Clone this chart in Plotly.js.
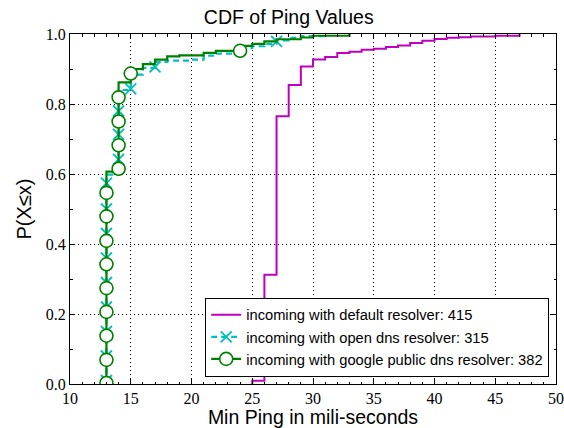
<!DOCTYPE html>
<html>
<head>
<meta charset="utf-8">
<script src="https://cdn.plot.ly/plotly-3.0.1.min.js"></script>
<style>html,body{margin:0;padding:0;background:#fff}#chart{width:564px;height:428px}</style>
</head>
<body>
<div id="chart"></div>
<script>
// Default resolver CDF steps
const defaultX = [25, 25, 26, 27, 28, 29, 30, 31, 32, 33, 34, 35, 36, 37, 38, 39, 40, 41, 42, 43, 45, 47];
const defaultP = [0, 0.009, 0.312, 0.765, 0.854, 0.907, 0.927, 0.934, 0.946, 0.949, 0.955, 0.958, 0.963, 0.967, 0.974, 0.981, 0.986, 0.989, 0.991, 0.993, 0.995, 1.0];

// Open DNS resolver CDF steps
const openX = [13, 13, 14, 15, 16, 17, 18, 20, 21, 22, 24, 25, 26, 27, 28, 29, 31];
const openP = [0, 0.598, 0.84, 0.884, 0.903, 0.92, 0.924, 0.927, 0.938, 0.944, 0.96, 0.965, 0.972, 0.982, 0.989, 0.994, 1.0];
const openMarkX = [13, 13, 13, 13, 13, 13, 13, 13, 13, 14, 14, 14, 15, 17, 27];
const openMarkP = [0.01, 0.08, 0.15, 0.22, 0.29, 0.36, 0.43, 0.50, 0.574, 0.642, 0.713, 0.78, 0.843, 0.906, 0.979];

// Google public DNS resolver CDF steps
const googleX = [13, 13, 14, 15, 16, 17, 18, 19, 21, 22, 24, 25, 26, 27, 29, 30, 33];
const googleP = [0, 0.607, 0.862, 0.9, 0.914, 0.927, 0.936, 0.939, 0.946, 0.952, 0.966, 0.972, 0.979, 0.985, 0.99, 0.995, 1.0];
const googleMarkX = [13, 13, 13, 13, 13, 13, 13, 13, 13, 14, 14, 14, 14, 15, 24];
const googleMarkP = [0.003, 0.069, 0.138, 0.206, 0.274, 0.342, 0.409, 0.479, 0.546, 0.615, 0.682, 0.750, 0.819, 0.887, 0.952];

const names = ['incoming with default resolver: 415', 'incoming with open dns resolver: 315', 'incoming with google public dns resolver: 382'];
const xTicks = [10, 15, 20, 25, 30, 35, 40, 45, 50];
const yTicks = [0.0, 0.2, 0.4, 0.6, 0.8, 1.0];

const MAG = '#bf00bf', CYA = '#00bfbf', GRN = '#008000';

const traces = [
  {x: defaultX, y: defaultP, mode: 'lines', line: {color: MAG, width: 2, shape: 'hv'}, showlegend: false},
  {x: openX, y: openP, mode: 'lines', line: {color: CYA, width: 2.2, shape: 'hv', dash: '6px,4px'}, showlegend: false},
  {x: openMarkX, y: openMarkP, mode: 'markers', marker: {symbol: 'x-thin-open', size: 11, color: CYA, line: {color: CYA, width: 1.8}}, showlegend: false},
  {x: googleX, y: googleP, mode: 'lines', line: {color: GRN, width: 2.2, shape: 'hv'}, showlegend: false},
  {x: googleMarkX, y: googleMarkP, mode: 'markers', marker: {symbol: 'circle', size: 13, color: '#ffffff', line: {color: GRN, width: 1.6}}, showlegend: false},
  {x: [null], y: [null], mode: 'lines', name: names[0], line: {color: MAG, width: 2}},
  {x: [null], y: [null], mode: 'lines+markers', name: names[1], line: {color: CYA, width: 2.2, dash: '6px,4px'}, marker: {symbol: 'x-thin-open', size: 11, color: CYA, line: {color: CYA, width: 1.8}}},
  {x: [null], y: [null], mode: 'lines+markers', name: names[2], line: {color: GRN, width: 2.2}, marker: {symbol: 'circle', size: 13, color: '#ffffff', line: {color: GRN, width: 1.6}}}
];

const axisCommon = {
  showline: true, linecolor: '#000', linewidth: 1, mirror: 'allticks',
  ticks: 'inside', ticklen: 5, tickcolor: '#000', tickwidth: 1,
  showgrid: true, gridcolor: '#000', gridwidth: 1, griddash: '1px,3px',
  zeroline: false, ticklabeloverflow: 'allow',
  tickfont: {family: 'Liberation Serif, DejaVu Serif, serif', size: 16, color: '#000'}
};

const layout = {
  width: 564, height: 428,
  margin: {l: 70, r: 8, t: 34, b: 44},
  paper_bgcolor: '#fff', plot_bgcolor: '#fff',
  title: {text: 'CDF of Ping Values', font: {family: 'Liberation Sans, Arial, sans-serif', size: 19.5, color: '#000'}, x: 0.512, xanchor: 'center', y: 0.96, yanchor: 'middle'},
  xaxis: Object.assign({}, axisCommon, {
    range: [10, 50], tickvals: xTicks, ticktext: xTicks.map(String),
    minor: {dtick: 1, ticks: 'inside', ticklen: 2.5, tickcolor: '#000', showgrid: false},
    title: {text: 'Min Ping in mili-seconds', font: {family: 'Liberation Sans, Arial, sans-serif', size: 19.5, color: '#000'}, standoff: 4}
  }),
  yaxis: Object.assign({}, axisCommon, {
    range: [0, 1], tickvals: yTicks, ticktext: yTicks.map(v => v.toFixed(1)),
    minor: {dtick: 0.1, ticks: 'inside', ticklen: 2.5, tickcolor: '#000', showgrid: false},
    title: {text: 'P(X≤x)', font: {family: 'Liberation Sans, Arial, sans-serif', size: 20, color: '#000'}, standoff: 8}
  }),
  legend: {
    x: 0.986, xanchor: 'right', y: 0.021, yanchor: 'bottom',
    bgcolor: '#fff', bordercolor: '#000', borderwidth: 1,
    font: {family: 'Liberation Sans, Arial, sans-serif', size: 14.7, color: '#000'},
    tracegroupgap: 0
  },
  showlegend: true
};

Plotly.newPlot('chart', traces, layout, {displayModeBar: false, staticPlot: true});
</script>
</body>
</html>
